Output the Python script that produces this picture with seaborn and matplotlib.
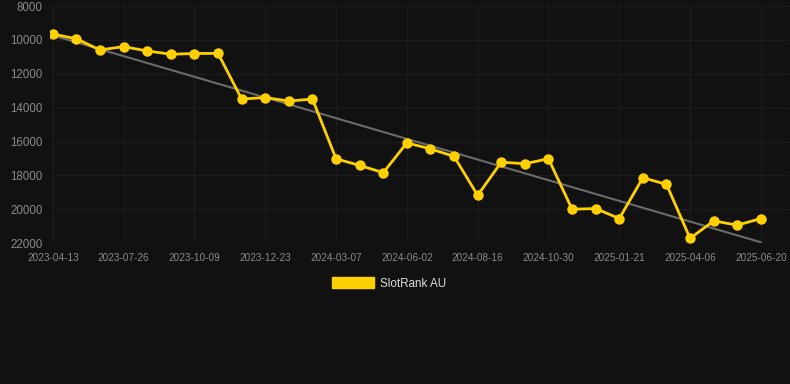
import matplotlib
matplotlib.use("Agg")
import matplotlib.pyplot as plt
import matplotlib.patches as mpatches
import seaborn as sns
import numpy as np
import pandas as pd

# Data (rank values, lower is better)
ranks = [9650, 9930, 10590, 10390, 10650, 10840, 10800, 10790, 13490, 13400,
         13610, 13490, 17020, 17410, 17840, 16080, 16430, 16880, 19180, 17220,
         17310, 17020, 20000, 19960, 20550, 18140, 18530, 21720, 20690, 20940,
         20550]
tick_labels = ["2023-04-13", "2023-07-26", "2023-10-09", "2023-12-23", "2024-03-07",
               "2024-06-02", "2024-08-16", "2024-10-30", "2025-01-21", "2025-04-06",
               "2025-06-20"]
series_name = "SlotRank AU"

df = pd.DataFrame({"idx": np.arange(len(ranks)), "rank": ranks})

bg = "#111111"
yellow = "#FFD000"
sns.set_style("dark")
plt.rcParams["font.family"] = ["Liberation Sans", "DejaVu Sans"]

fig = plt.figure(figsize=(7.9, 3.84), dpi=100, facecolor=bg)
ax = fig.add_axes([0.063, 0.367, 0.936, 0.617])
ax.set_facecolor(bg)

# trend line
sns.regplot(data=df, x="idx", y="rank", scatter=False, ci=None, ax=ax,
            line_kws={"color": "#6b6b6b", "linewidth": 1.5})
sns.lineplot(data=df, x="idx", y="rank", ax=ax, color=yellow, linewidth=2.0,
             marker="o", markersize=7.5, markeredgewidth=0)

ax.set_ylim(22000, 8000)
ax.set_yticks(np.arange(8000, 22001, 2000))
ax.set_xlim(-0.13, 31.2)
ax.set_xticks(np.arange(0, len(ranks), 3))
ax.set_xticklabels(tick_labels)
ax.tick_params(axis="x", labelsize=7.2, colors="#8a8a8a", length=0, pad=7)
ax.tick_params(axis="y", labelsize=8.3, colors="#8a8a8a", length=0, pad=5)
ax.set_xlabel("")
ax.set_ylabel("")
ax.grid(True, color="#1c1c1c", linewidth=0.8)
for s in ax.spines.values():
    s.set_visible(False)
ax.axhline(22000, color="#2a2a2a", linewidth=1.0, zorder=1)

handle = mpatches.Patch(color=yellow, label=series_name)
leg = fig.legend(handles=[handle], loc="center", bbox_to_anchor=(0.493, 0.262),
                 frameon=False, fontsize=8.4, handlelength=3.6, handleheight=1.0,
                 handletextpad=0.5)
for t in leg.get_texts():
    t.set_color("#dddddd")

fig.savefig("out.png", dpi=100, facecolor=bg)
